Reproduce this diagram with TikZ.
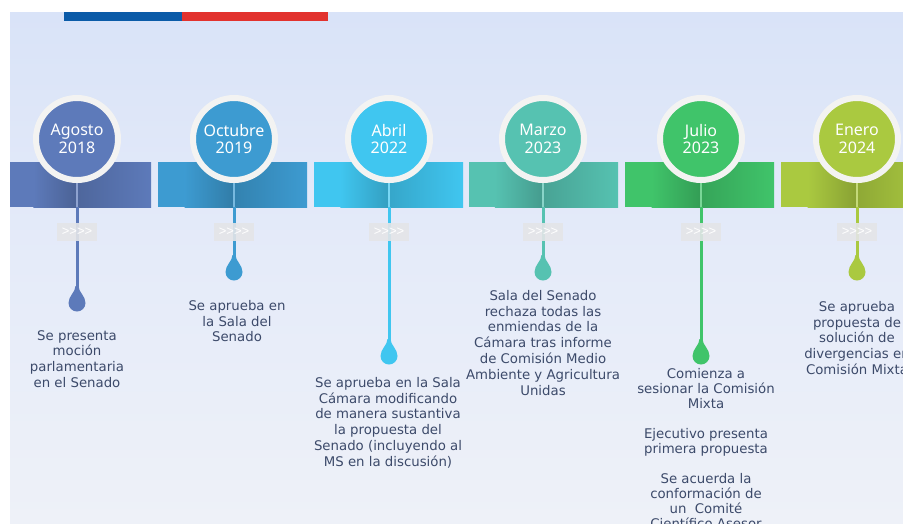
\documentclass[tikz,border=0pt]{standalone}
\usepackage{fontspec}
\setmainfont{DejaVu Sans}
\newfontfamily\circfont{Noto Sans}
\newfontfamily\chevfont{Liberation Sans}
\usetikzlibrary{shadows}
\definecolor{c1}{HTML}{5D7ABA}
\definecolor{c2}{HTML}{3D9BD1}
\definecolor{c3}{HTML}{40C6F0}
\definecolor{c4}{HTML}{56C2B1}
\definecolor{c5}{HTML}{40C46A}
\definecolor{c6}{HTML}{AAC940}
\definecolor{txt}{HTML}{3C4A6A}
\definecolor{bgtop}{HTML}{D9E3F8}
\definecolor{bgmid}{HTML}{E5EBF9}
\definecolor{bgbot}{HTML}{EEF1F8}
\definecolor{flagblue}{HTML}{0B5BA8}
\definecolor{flagred}{HTML}{E2322E}
\definecolor{ring}{HTML}{F3F3F2}
\definecolor{chevfill}{HTML}{E4E5E8}
\begin{document}
\begin{tikzpicture}[x=1pt,y=-1pt,
  datecirc/.style={circle, fill=#1, draw=ring, line width=6pt, minimum size=82pt,
    inner sep=0pt, text=white, font=\circfont\fontsize{16}{17.5}\selectfont, align=center,
    circular drop shadow={shadow xshift=0pt, shadow yshift=-1pt, opacity=0.18, shadow scale=1.04}},
  chevbox/.style={fill=chevfill, fill opacity=0.9, text opacity=1, text=white,
    minimum width=40pt, minimum height=18pt, inner sep=0pt, font=\chevfont\fontsize{13}{13}\selectfont},
  desc/.style={text=txt, align=center, font=\fontsize{13.3}{15.8}\selectfont, inner sep=0pt, anchor=north},
  pics/drop/.style={code={\fill[#1] (-1.5,-17) .. controls (-1.5,-11) and (-8.5,-7) .. (-8.5,0)
      arc[start angle=180,end angle=0,radius=8.5] .. controls (8.5,-7) and (1.5,-11) .. (1.5,-17) -- cycle;}}
]
\useasboundingbox (0,0) rectangle (903,523);
\clip (0,0) rectangle (903,523);
\fill[white] (0,0) rectangle (903,523);
\shade[top color=bgtop, bottom color=bgmid] (10,12) rectangle (903,260);
\shade[top color=bgmid, bottom color=bgbot] (10,260) rectangle (903,523);
% flag strip
\fill[flagblue] (64,12) rectangle (182,21);
\fill[flagred] (182,12) rectangle (328,21);
% timeline
\foreach \i/\cx/\xs/\xe/\dy/\mon/\yr in {1/77/10/151/303/Agosto/2018, 2/234/158/307/272/Octubre/2019,
    3/389/314/463/356/Abril/2022, 4/543/469/618/272/Marzo/2023, 5/701/625/774/356/Julio/2023,
    6/857/781/930/272/Enero/2024}{
  \fill[c\i] (\xs,162) rectangle (\xe,207);
  \shade[left color=c\i, right color=c\i!80!black] ({\xs+0.35*(\cx-\xs)},162) rectangle (\cx,207);
  \shade[left color=c\i!84!black, right color=c\i] (\cx,162) rectangle (\xe,207);
  \coordinate (bar\i) at (\cx,207);
  \coordinate (drop\i) at (\cx,\dy-16);
  \node[datecirc=c\i] (circ\i) at (\cx,139) {\mon\\\yr};
  \draw[c\i!70!white, line width=2pt] (circ\i.south) -- (bar\i);
  \draw[c\i, line width=3pt] (bar\i) -- (drop\i);
  \node[chevbox] (chev\i) at (\cx,232) {>>>>};
  \pic at (\cx,\dy) {drop=c\i};
}
% descriptions
\node[desc] (t1) at (77,330) {Se presenta\\moción\\parlamentaria\\en el Senado};
\node[desc] (t2) at (237,300) {Se aprueba en\\la Sala del\\Senado};
\node[desc] (t3) at (388,377) {Se aprueba en la Sala\\Cámara modificando\\de manera sustantiva\\la propuesta del\\Senado (incluyendo al\\MS en la discusión)};
\node[desc] (t4) at (543,290) {Sala del Senado\\rechaza todas las\\enmiendas de la\\Cámara tras informe\\de Comisión Medio\\Ambiente y Agricultura\\Unidas};
\node[desc, font=\fontsize{13.3}{15}\selectfont] (t5) at (706,368) {Comienza a\\sesionar la Comisión\\Mixta\\[15pt]Ejecutivo presenta\\primera propuesta\\[15pt]Se acuerda la\\conformación de\\un\ \ Comité\\Científico Asesor};
\node[desc] (t6) at (857,301) {Se aprueba\\propuesta de\\solución de\\divergencias en\\Comisión Mixta};
\end{tikzpicture}
\end{document}
